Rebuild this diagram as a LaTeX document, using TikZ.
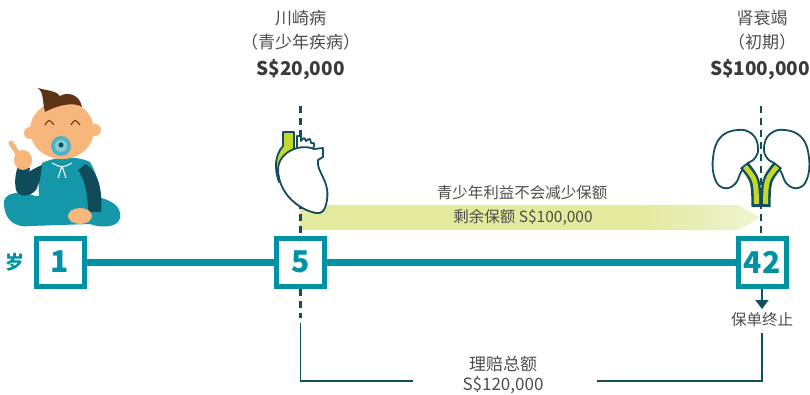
\documentclass[tikz,border=0pt]{standalone}
\usepackage{fontspec}
\setmainfont{Noto Sans CJK SC}
\usepackage{xcolor}
\usepackage{tikz}
\usetikzlibrary{arrows.meta,positioning}
\definecolor{tealline}{HTML}{0091A3}
\definecolor{navyline}{HTML}{124E5C}
\definecolor{txtgray}{HTML}{4D4D4D}
\definecolor{amountgray}{HTML}{3A3A3A}
\definecolor{limefill}{HTML}{C5D62E}
\definecolor{bandfill}{HTML}{E2EA9E}
\definecolor{bandfade}{HTML}{EFF4D2}
\definecolor{skin}{HTML}{F6B67C}
\definecolor{hairbrown}{HTML}{5B3516}
\definecolor{suit}{HTML}{1497A9}
\definecolor{sleeve}{HTML}{0F4B5A}
\definecolor{pacifier}{HTML}{4FB3C4}
\tikzstyle{guide} = [draw=navyline, line width=2.5pt, dash pattern=on 7pt off 5pt]
\tikzstyle{bracket} = [draw=navyline, line width=1.3pt]
\tikzset{
    every node/.style={font=\fontsize{15.5}{18}\selectfont, text=txtgray},
    agebox/.style={draw=tealline, line width=5pt, fill=white, minimum size=48pt, inner sep=0pt, font=\fontsize{30}{30}\selectfont\bfseries, text=tealline},
    event/.style={font=\fontsize{17}{20}\selectfont},
    amount/.style={font=\fontsize{19}{22}\selectfont\bfseries, text=amountgray},
    organ/.style={draw=navyline, line width=1.8pt, fill=white, line join=round}
}

\begin{document}
\begin{tikzpicture}[x=1pt,y=-1pt]
\useasboundingbox (0,0) rectangle (810,395);

% Draw timeline
\node[agebox] (b1) at (60,262) {1};
\node[agebox] (b5) at (300.5,262) {5};
\node[agebox] (b42) at (762,262) {42};
\node[font=\fontsize{19}{19}\selectfont\bfseries, text=tealline, inner sep=0pt] (sui) at (15,262) {岁};
\draw[tealline, line width=7pt] (b1) -- (b5) -- (b42);

% Draw remaining cover band
\fill[bandfill] (300,205) rectangle (640,230);
\shade[left color=bandfill, right color=bandfade] (640,205) -- (738,205) -- (760,217.5) -- (738,230) -- (640,230) -- cycle;
\node (keep) at (522,193) {青少年利益不会减少保额};
\node (left) at (523,217.5) {剩余保额 S\$100,000};

% Draw guide at age 5
\coordinate (top5) at (300.5,106);
\coordinate (low5) at (300.5,318);
\draw[guide] (top5) -- (b5.north);
\draw[guide] (b5.south) -- (low5);

% Draw heart
\filldraw[fill=limefill, draw=navyline, line width=1.8pt, line join=round] (283,132) -- (294,132) -- (294,152) -- (279,182) .. controls (274,168) and (275,155) .. (283,146) -- cycle;
\filldraw[organ] (297,150) -- (297,136) -- (301,136) -- (301,141) .. controls (304,137) .. (306,141) .. controls (310,138) .. (311,143) .. controls (315,143) .. (313,149) -- cycle;
\filldraw[organ] (278,170) .. controls (278,152) and (300,143) .. (314,149) -- (323,148) -- (323,157) -- (318,160) .. controls (316,172) and (330,180) .. (327,200) .. controls (325,212) and (321,214) .. (316,213) .. controls (300,210) and (279,195) .. (278,170) -- cycle;

% Draw kidneys
\filldraw[organ] plot[smooth cycle, tension=0.75] coordinates {(737,130) (752,134) (758,147) (755,158) (747,164) (741,172) (735,184) (724,188) (715,179) (713,158) (720,138)};
\filldraw[organ] plot[smooth cycle, tension=0.75] coordinates {(785,130) (770,134) (764,147) (767,158) (775,164) (781,172) (787,184) (798,188) (807,179) (809,158) (802,138)};
\draw[navyline, line width=10pt] (744,165) .. controls (756,180) .. (756.5,207);
\draw[navyline, line width=10pt] (778,165) .. controls (766,180) .. (765.5,207);
\draw[limefill, line width=5pt] (745,166.5) .. controls (756,180) .. (756.5,204);
\draw[limefill, line width=5pt] (777,166.5) .. controls (766,180) .. (765.5,204);

% Draw guide at age 42
\coordinate (top42) at (761,106);
\coordinate (end42) at (762,309);
\draw[guide] (top42) -- (b42.north -| top42);
\draw[navyline, line width=2pt, -{Triangle[width=13pt,length=9pt]}] (b42.south) -- (end42);
\node (stop) at (762,320) {保单终止};

% Add claim labels
\node[event] (kawa) at (300.5,18) {川崎病};
\node[event] (kawasub) at (300.5,42) {（青少年疾病）};
\node[amount] (kawaamt) at (300.5,70) {S\$20,000};
\node[event] (renal) at (762,18) {肾衰竭};
\node[event] (renalsub) at (762,42) {（初期）};
\node[amount] (renalamt) at (760,70) {S\$100,000};

% Draw total bracket
\node[event] (total) at (503,364) {理赔总额};
\node[event] (totalamt) at (503,385) {S\$120,000};
\coordinate (brl) at (300.5,323);
\coordinate (brr) at (762,333);
\coordinate (gapl) at (413,381);
\coordinate (gapr) at (597,381);
\draw[bracket] (brl) |- (gapl);
\draw[bracket] (gapr) -| (brr);

% Draw baby
\fill[suit] (4,205) .. controls (2,192) and (20,190) .. (35,196) -- (95,196) .. controls (110,200) and (122,205) .. (120,218) .. controls (118,228) and (100,228) .. (90,224) -- (30,226) .. controls (15,228) and (5,220) .. (4,205) -- cycle;
\fill[suit] (42,163) .. controls (55,157) and (75,155) .. (90,162) .. controls (98,175) and (102,195) .. (100,210) -- (40,210) .. controls (38,190) and (38,175) .. (42,163) -- cycle;
\fill[sleeve] (42,165) .. controls (30,170) and (17,178) .. (16,190) .. controls (19,198) and (30,197) .. (36,190) -- (40,180) -- cycle;
\fill[sleeve] (16,190) .. controls (14,180) and (16,172) .. (18,166) -- (30,168) .. controls (28,176) and (30,184) .. (34,190) -- cycle;
\fill[sleeve] (86,164) .. controls (98,172) and (103,190) .. (101,212) -- (88,212) .. controls (88,195) and (85,180) .. (78,170) -- cycle;
\draw[skin, line width=5pt, line cap=round] (18,154) -- (11,143);
\fill[skin] (23,160) ellipse (9 and 10);
\fill[skin] (80,216) ellipse (12 and 8);
\fill[skin] (30,133) circle (6);
\fill[skin] (95,130) circle (6);
\fill[skin] (62,130) ellipse (32 and 29);
\fill[hairbrown] (45,112) .. controls (42,100) and (44,93) .. (38,88) .. controls (48,91) and (55,90) .. (60,96) .. controls (68,91) and (80,95) .. (82,107) .. controls (75,102) and (60,104) .. (45,112) -- cycle;
\draw[hairbrown, line width=1pt] (45,125) .. controls (49,119) .. (54,125);
\draw[hairbrown, line width=1pt] (71,125) .. controls (75,119) .. (80,125);
\fill[pacifier] (61,146) circle (10);
\fill[suit!50!white] (61,146) circle (6);
\fill[sleeve] (61,145) circle (2.5);
\draw[white, line width=1pt] (52,163) .. controls (62,168) .. (72,163);
\draw[white, line width=1pt] (62,166) -- (58,178);
\draw[white, line width=1pt] (62,166) -- (66,178);
\end{tikzpicture}
\end{document}
